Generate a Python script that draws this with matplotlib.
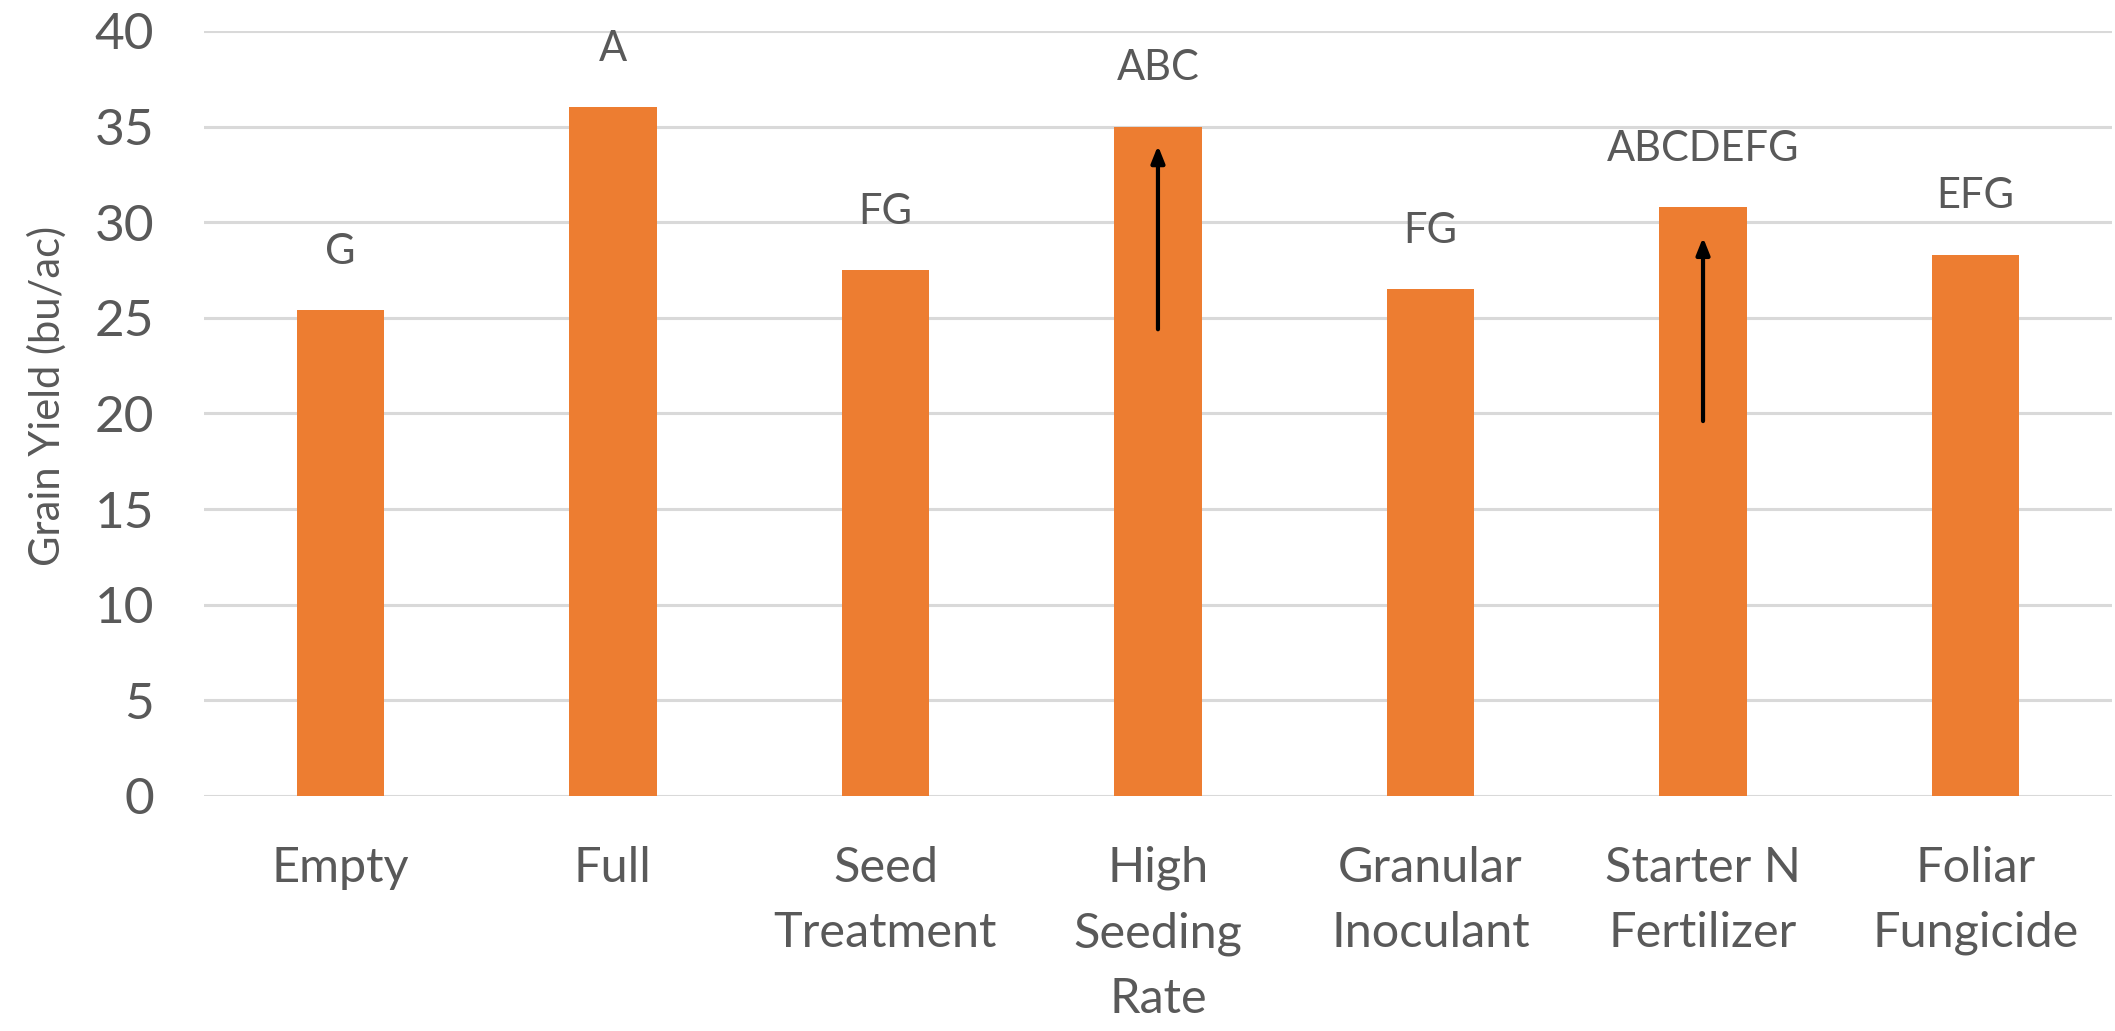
import matplotlib
matplotlib.use("Agg")
import matplotlib.pyplot as plt
import numpy as np

categories = ["Empty", "Full", "Seed\nTreatment", "High\nSeeding\nRate",
              "Granular\nInoculant", "Starter N\nFertilizer", "Foliar\nFungicide"]
yield_values = [25.4, 36.0, 27.5, 35.0, 26.5, 30.8, 28.3]
letters = ["G", "A", "FG", "ABC", "FG", "ABCDEFG", "EFG"]
# arrows drawn inside bars: (category index, start value, end value)
arrows = [(3, 24.4, 34.0), (5, 19.6, 29.2)]
y_ticks = [0, 5, 10, 15, 20, 25, 30, 35, 40]

plt.rcParams["font.family"] = ["Lato", "DejaVu Sans"]
text_color = "#595959"
bar_color = "#ED7D31"
grid_color = "#D9D9D9"

fig = plt.figure(figsize=(21.15, 10.31), dpi=100)
ax = fig.add_axes([0.0965, 0.228, 0.902, 0.742])

x = np.arange(len(categories))
ax.bar(x, yield_values, width=0.32, color=bar_color, zorder=2)

for xi, v, lab in zip(x, yield_values, letters):
    ax.annotate(lab, (xi, v), xytext=(0, 42), textcoords="offset points",
                ha="center", va="center", fontsize=30, color=text_color)

for idx, y0, y1 in arrows:
    ax.annotate("", xy=(idx, y1), xytext=(idx, y0),
                arrowprops=dict(arrowstyle="-|>,head_length=1.0,head_width=0.4",
                                color="black", lw=3, shrinkA=0, shrinkB=0),
                zorder=3)

ax.set_ylim(0, 40)
ax.set_xlim(-0.5, len(categories) - 0.5)
ax.set_yticks(y_ticks)
ax.set_xticks(x)
ax.set_xticklabels(categories, linespacing=1.58, fontsize=35)
ax.yaxis.grid(True, color=grid_color, linewidth=2.2, zorder=0)
ax.set_axisbelow(True)
for s in ax.spines.values():
    s.set_visible(False)
ax.tick_params(axis="both", length=0, labelcolor=text_color)
ax.tick_params(axis="y", pad=36, labelsize=37)
ax.tick_params(axis="x", pad=36)
for lbl in ax.get_xticklabels():
    lbl.set_verticalalignment("top")

ax.set_ylabel("Grain Yield (bu/ac)", fontsize=30, color=text_color)
ax.yaxis.set_label_coords(-0.072, 0.523)

fig.savefig("out.png", dpi=100, facecolor="white")
